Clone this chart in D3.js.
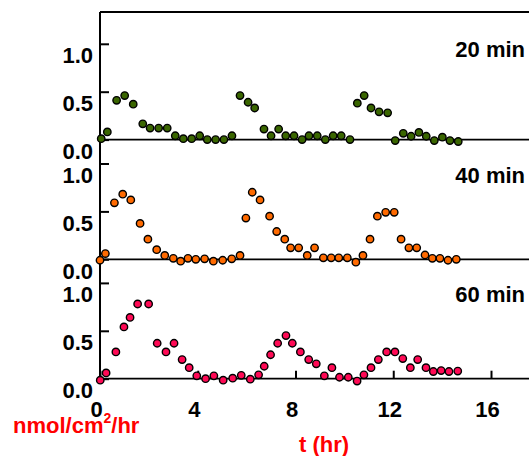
<!DOCTYPE html>
<html>
<head>
<meta charset="utf-8">
<script src="https://cdn.jsdelivr.net/npm/d3@7"></script>
<style>
  body { margin: 0; background: #fff; }
  svg { display: block; font-family: "Liberation Sans", Arial, sans-serif; font-weight: bold; }
</style>
</head>
<body>
<svg id="chart" width="529" height="456"></svg>
<script>
// sampling times (hr) and rates for each pulse length
const panels = ['20 min', '40 min', '60 min'];
const colors = ['#3a6600', '#ff6a00', '#ff0a55'];

const t20 = [0.05, 0.30, 0.68, 1.01, 1.36, 1.75, 2.05, 2.40, 2.75, 3.08, 3.41, 3.75, 4.08, 4.39, 4.73, 5.07,
    5.40, 5.73, 6.06, 6.33, 6.71, 7.00, 7.31, 7.60, 7.94, 8.27, 8.55, 8.89, 9.22, 9.54, 9.87, 10.23,
    10.53, 10.81, 11.09, 11.42, 11.77, 12.08, 12.41, 12.73, 13.05, 13.35, 13.68, 14.01, 14.32, 14.66];
const v20 = [0.01, 0.08, 0.41, 0.46, 0.37, 0.165, 0.12, 0.12, 0.12, 0.04, 0.01, 0.01, 0.04, 0.0, 0.0, 0.0,
    0.04, 0.46, 0.39, 0.33, 0.11, 0.04, 0.11, 0.04, 0.04, 0.0, 0.04, 0.04, 0.0, 0.04, 0.04, 0.0,
    0.38, 0.46, 0.33, 0.29, 0.28, -0.01, 0.065, 0.035, 0.075, 0.035, -0.01, 0.025, -0.01, -0.02];

const t40 = [0.0, 0.22, 0.59, 0.93, 1.26, 1.64, 1.96, 2.32, 2.65, 3.00, 3.30, 3.60, 3.92, 4.28, 4.64, 5.02,
    5.39, 5.73, 5.97, 6.23, 6.55, 6.94, 7.23, 7.56, 7.80, 8.13, 8.48, 8.78, 9.14, 9.46, 9.77, 10.12,
    10.47, 10.76, 11.05, 11.35, 11.69, 12.04, 12.32, 12.64, 12.96, 13.30, 13.60, 13.91, 14.24, 14.58];
const v40 = [-0.01, 0.06, 0.59, 0.68, 0.62, 0.375, 0.21, 0.10, 0.04, 0.01, -0.02, 0.01, 0.0, 0.005, -0.02, -0.01,
    0.005, 0.04, 0.43, 0.70, 0.62, 0.45, 0.29, 0.21, 0.12, 0.12, 0.04, 0.12, 0.015, 0.015, 0.015, 0.015,
    -0.03, 0.04, 0.21, 0.45, 0.49, 0.49, 0.21, 0.12, 0.12, 0.045, 0.01, 0.01, -0.01, 0.0];

const t60 = [0.01, 0.25, 0.65, 0.98, 1.23, 1.54, 1.99, 2.34, 2.70, 3.03, 3.36, 3.65, 3.96, 4.32, 4.66, 5.04,
    5.43, 5.78, 6.15, 6.49, 6.72, 6.98, 7.27, 7.61, 7.87, 8.20, 8.54, 8.85, 9.18, 9.49, 9.80, 10.16,
    10.52, 10.80, 11.09, 11.39, 11.73, 12.07, 12.39, 12.70, 13.00, 13.34, 13.64, 13.96, 14.28, 14.64];
const v60 = [-0.015, 0.06, 0.28, 0.54, 0.64, 0.78, 0.78, 0.37, 0.28, 0.37, 0.20, 0.115, 0.03, 0.0, 0.03, -0.015,
    0.005, 0.035, -0.005, 0.04, 0.13, 0.25, 0.37, 0.45, 0.37, 0.28, 0.20, 0.155, 0.03, 0.115, 0.015, 0.015,
    -0.025, 0.04, 0.115, 0.20, 0.28, 0.28, 0.21, 0.115, 0.20, 0.115, 0.075, 0.085, 0.075, 0.08];

const times = [t20, t40, t60];
const series = [v20, v40, v60];
const yTicks = [0, 0.5, 1.0];
const xTicks = [0, 4, 8, 12, 16];
const yLabel = 'nmol/cm';
const xLabel = 't (hr)';

const width = 529;
const left = 100, plotTop = 12;
const zeroY = [139.6, 259.3, 378.7];
const unit = 95.8;
const fontSize = 22;

const svg = d3.select('#chart');
const x = d3.scaleLinear().domain([0, 16]).range([left, 491]);
const ys = zeroY.map(z => d3.scaleLinear().domain([0, 1]).range([z, z - unit]));

// frame: top border and one long y axis line
svg.append('line').attr('x1', left).attr('x2', width).attr('y1', plotTop).attr('y2', plotTop)
    .attr('stroke', '#000').attr('stroke-width', 2);
svg.append('line').attr('x1', left).attr('x2', left).attr('y1', plotTop).attr('y2', zeroY[2] + 1)
    .attr('stroke', '#000').attr('stroke-width', 2);

panels.forEach((name, i) => {
    const y = ys[i];
    const g = svg.append('g').classed('panel', true);

    g.append('line')
        .attr('x1', left).attr('x2', width)
        .attr('y1', y(0)).attr('y2', y(0))
        .attr('stroke', '#000').attr('stroke-width', 1.8);

    const axis = g.append('g')
        .attr('transform', `translate(${left},0)`)
        .call(d3.axisLeft(y).tickValues(yTicks).tickFormat(d3.format('.1f')).tickSize(-9).tickPadding(7));
    axis.select('.domain').remove();
    axis.selectAll('line').attr('stroke-width', 2);
    axis.selectAll('text').attr('dy', '0.86em')
        .attr('font-size', fontSize).attr('fill', '#000');
    axis.attr('font-size', null).attr('font-family', null);

    g.append('text')
        .attr('x', 525)
        .attr('y', y(1) + (i == 0 ? 13.5 : 19.5))
        .attr('text-anchor', 'end')
        .attr('font-size', fontSize)
        .text(name);

    if (i == panels.length - 1) {
        const xAxis = g.append('g')
            .attr('transform', `translate(0,${y(0)})`)
            .call(d3.axisBottom(x).tickValues(xTicks).tickFormat(d3.format('d')).tickSize(-8).tickPadding(23));
        xAxis.select('.domain').remove();
        xAxis.selectAll('line').attr('stroke-width', 2);
        xAxis.selectAll('text').attr('dx', -4).attr('dy', '0.68em')
            .attr('font-size', fontSize).attr('fill', '#000');
        xAxis.attr('font-size', null).attr('font-family', null);
    }

    const pts = times[i].map((t, j) => ({ t: t, v: series[i][j] }));
    g.selectAll('circle').data(pts).join('circle')
        .attr('cx', d => x(d.t))
        .attr('cy', d => y(d.v))
        .attr('r', 3.7)
        .attr('fill', colors[i])
        .attr('stroke', '#000')
        .attr('stroke-width', 1.4);
});

const unitLabel = svg.append('text')
    .attr('x', 13).attr('y', 433)
    .attr('font-size', fontSize)
    .attr('fill', '#ff0000');
unitLabel.append('tspan').text(yLabel);
unitLabel.append('tspan').attr('dy', -10).attr('font-size', 14).text('2');
unitLabel.append('tspan').attr('dy', 10).text('/hr');

svg.append('text')
    .attr('x', 324).attr('y', 452)
    .attr('text-anchor', 'middle')
    .attr('font-size', fontSize)
    .attr('fill', '#ff0000')
    .text(xLabel);
</script>
</body>
</html>
